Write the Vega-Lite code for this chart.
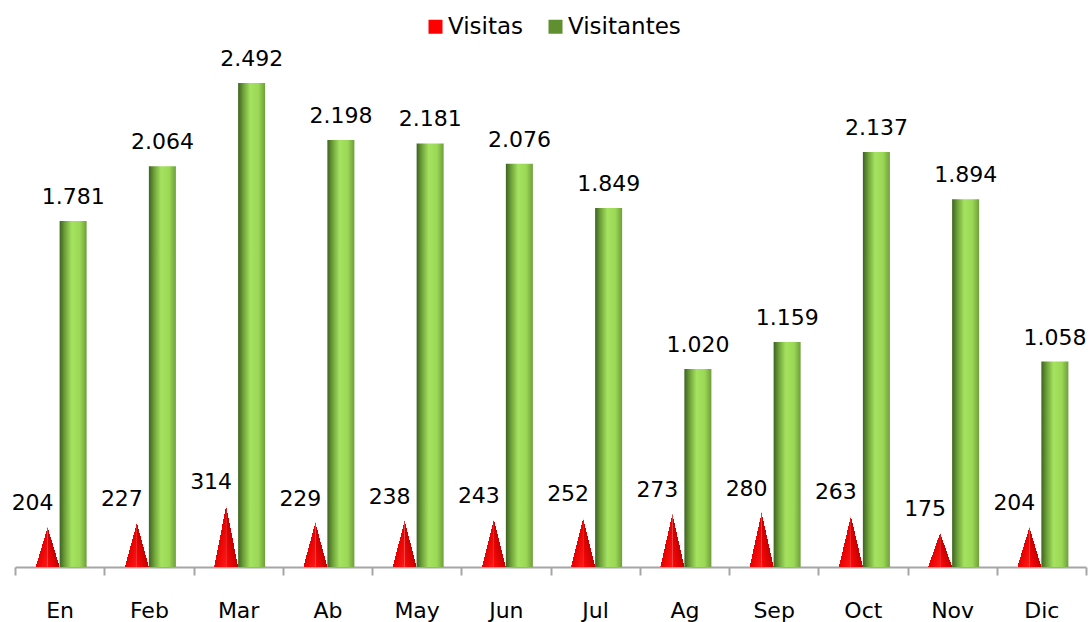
{
  "$schema": "https://vega.github.io/schema/vega-lite/v6.json",
  "autosize": "none",
  "width": 1071,
  "height": 517,
  "padding": {"left": 15, "top": 50, "right": 5, "bottom": 55},
  "background": "white",
  "config": {
    "view": {"stroke": null},
    "font": "DejaVu Sans",
    "locale": {"number": {"decimal": ",", "thousands": ".", "grouping": [3], "currency": ["", " €"]}}
  },
  "data": {
    "values": [
      {"month": "En", "series": "Visitas", "value": 204},
      {"month": "Feb", "series": "Visitas", "value": 227},
      {"month": "Mar", "series": "Visitas", "value": 314},
      {"month": "Ab", "series": "Visitas", "value": 229},
      {"month": "May", "series": "Visitas", "value": 238},
      {"month": "Jun", "series": "Visitas", "value": 243},
      {"month": "Jul", "series": "Visitas", "value": 252},
      {"month": "Ag", "series": "Visitas", "value": 273},
      {"month": "Sep", "series": "Visitas", "value": 280},
      {"month": "Oct", "series": "Visitas", "value": 263},
      {"month": "Nov", "series": "Visitas", "value": 175},
      {"month": "Dic", "series": "Visitas", "value": 204},
      {"month": "En", "series": "Visitantes", "value": 1781},
      {"month": "Feb", "series": "Visitantes", "value": 2064},
      {"month": "Mar", "series": "Visitantes", "value": 2492},
      {"month": "Ab", "series": "Visitantes", "value": 2198},
      {"month": "May", "series": "Visitantes", "value": 2181},
      {"month": "Jun", "series": "Visitantes", "value": 2076},
      {"month": "Jul", "series": "Visitantes", "value": 1849},
      {"month": "Ag", "series": "Visitantes", "value": 1020},
      {"month": "Sep", "series": "Visitantes", "value": 1159},
      {"month": "Oct", "series": "Visitantes", "value": 2137},
      {"month": "Nov", "series": "Visitantes", "value": 1894},
      {"month": "Dic", "series": "Visitantes", "value": 1058}
    ]
  },
  "encoding": {
    "x": {
      "field": "month",
      "type": "nominal",
      "sort": ["En", "Feb", "Mar", "Ab", "May", "Jun", "Jul", "Ag", "Sep", "Oct", "Nov", "Dic"],
      "scale": {"paddingInner": 0, "paddingOuter": 0},
      "axis": {
        "title": null,
        "labelAngle": 0,
        "labelFont": "DejaVu Sans",
        "labelFontSize": 22,
        "labelColor": "#000000",
        "labelPadding": 25,
        "tickBand": "extent",
        "tickSize": 8,
        "tickWidth": 2,
        "tickColor": "#a6a6a6",
        "domainColor": "#a6a6a6",
        "domainWidth": 2,
        "grid": false
      }
    },
    "y": {
      "field": "value",
      "type": "quantitative",
      "scale": {"domain": [0, 2662], "nice": false, "zero": true},
      "axis": null
    }
  },
  "layer": [
    {
      "transform": [{"filter": "datum.series === 'Visitas'"}],
      "mark": {
        "type": "bar",
        "width": 12,
        "xOffset": -18,
        "fill": {
          "gradient": "linear", "x1": 0, "y1": 0, "x2": 1, "y2": 1,
          "stops": [
            {"offset": 0, "color": "rgba(255,255,255,0)"},
            {"offset": 0.5, "color": "rgba(255,255,255,0)"},
            {"offset": 0.5, "color": "#e60000"},
            {"offset": 1, "color": "#ff1a1a"}
          ]
        }
      },
      "encoding": {
        "color": {
          "field": "series",
          "type": "nominal",
          "scale": {"domain": ["Visitas", "Visitantes"], "range": ["#ff0000", "#5f8f2f"]},
          "legend": {
            "title": null,
            "orient": "none",
            "direction": "horizontal",
            "legendX": 409,
            "legendY": -35,
            "symbolType": "square",
            "symbolSize": 196,
            "symbolStrokeWidth": 0,
            "labelFont": "DejaVu Sans",
            "labelFontSize": 23,
            "labelColor": "#000000",
            "labelOffset": 1,
            "columnPadding": 20,
            "padding": 0,
            "encode": {
              "symbols": {
                "update": {
                  "fill": {"scale": "color", "field": "value"},
                  "opacity": {"value": 1}
                }
              }
            }
          }
        }
      }
    },
    {
      "transform": [{"filter": "datum.series === 'Visitas'"}],
      "mark": {
        "type": "bar",
        "width": 12,
        "xOffset": -6,
        "fill": {
          "gradient": "linear", "x1": 1, "y1": 0, "x2": 0, "y2": 1,
          "stops": [
            {"offset": 0, "color": "rgba(255,255,255,0)"},
            {"offset": 0.5, "color": "rgba(255,255,255,0)"},
            {"offset": 0.5, "color": "#c80000"},
            {"offset": 1, "color": "#ff0a0a"}
          ]
        }
      },
      "encoding": {}
    },
    {
      "transform": [{"filter": "datum.series === 'Visitantes'"}],
      "mark": {
        "type": "bar",
        "width": 27,
        "xOffset": 13.5,
        "fill": {
          "gradient": "linear", "x1": 0, "y1": 0, "x2": 1, "y2": 0,
          "stops": [
            {"offset": 0, "color": "#3d6320"},
            {"offset": 0.2, "color": "#6fa23a"},
            {"offset": 0.45, "color": "#a5e260"},
            {"offset": 0.75, "color": "#9bd856"},
            {"offset": 1, "color": "#6e9e3b"}
          ]
        }
      },
      "encoding": {
        "color": {"field": "series", "type": "nominal"}
      }
    },
    {
      "transform": [{"filter": "datum.series === 'Visitas'"}],
      "mark": {"type": "text", "dx": -27, "dy": -17, "baseline": "alphabetic", "font": "DejaVu Sans", "fontSize": 22, "fill": "#000000"},
      "encoding": {"text": {"field": "value", "type": "quantitative", "format": ",d"}}
    },
    {
      "transform": [{"filter": "datum.series === 'Visitantes'"}],
      "mark": {"type": "text", "dx": 13.5, "dy": -17, "baseline": "alphabetic", "font": "DejaVu Sans", "fontSize": 22, "fill": "#000000"},
      "encoding": {"text": {"field": "value", "type": "quantitative", "format": ",d"}}
    }
  ]
}
